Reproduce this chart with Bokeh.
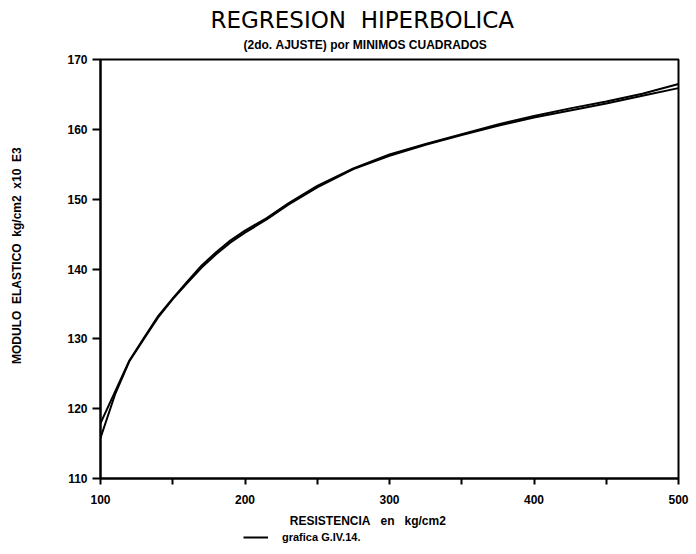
from bokeh.plotting import figure
from bokeh.layouts import column
from bokeh.models import Range1d, FixedTicker, Title, Legend, LegendItem
from bokeh.embed import file_html
from bokeh.resources import INLINE

# Data
resistencia = [100, 110, 120, 130, 140, 150, 160, 170, 180, 190, 200, 215, 230, 250,
               275, 300, 325, 350, 375, 400, 425, 450, 475, 500]
modulo_ajuste = [117.9, 122.4, 126.9, 130.1, 133.3, 135.8, 138.2, 140.5, 142.4, 144.1,
                 145.5, 147.3, 149.4, 151.9, 154.4, 156.4, 157.9, 159.3, 160.7, 161.9,
                 163.0, 164.0, 165.1, 166.5]
modulo_grafica = [115.8, 122.0, 126.8, 130.0, 133.1, 135.7, 138.0, 140.2, 142.1, 143.8,
                  145.2, 147.1, 149.2, 151.7, 154.3, 156.2, 157.8, 159.2, 160.5, 161.7,
                  162.7, 163.7, 164.8, 165.9]
x_ticks = [100, 200, 300, 400, 500]
x_minor_ticks = [150, 250, 350, 450]
y_ticks = [110, 120, 130, 140, 150, 160, 170]

NB = "\u00a0"
title_text = "REGRESION" + NB * 2 + "HIPERBOLICA"
subtitle_text = "(2do." + NB + "AJUSTE)" + NB + "por" + NB + "MINIMOS" + NB + "CUADRADOS"
x_label = "RESISTENCIA" + NB * 3 + "en" + NB * 3 + "kg/cm2" + NB * 13
y_label = NB * 8 + "MODULO" + NB * 2 + "ELASTICO" + NB * 2 + "kg/cm2" + NB * 2 + "x10" + NB * 2 + "E3"
legend_label = "grafica G.IV.14."

p = figure(width=696, height=530, output_backend="svg", toolbar_location=None,
           x_range=Range1d(100, 500), y_range=Range1d(110, 170),
           min_border_left=100, min_border_right=18, min_border_top=59, min_border_bottom=49)

p.add_layout(Title(text=subtitle_text, align="left", offset=143, text_font="Liberation Sans",
                   text_font_size="12px", text_font_style="bold", text_color="black",
                   standoff=16), "above")
p.add_layout(Title(text=title_text, align="left", offset=110, text_font="DejaVu Sans",
                   text_font_size="23px", text_font_style="normal", text_color="black",
                   standoff=-10), "above")

r1 = p.line(resistencia, modulo_ajuste, line_color="black", line_width=2)
r2 = p.line(resistencia, modulo_grafica, line_color="black", line_width=2)

p.xgrid.visible = False
p.ygrid.visible = False
p.background_fill_color = "white"
p.border_fill_color = "white"
p.outline_line_color = "black"
p.outline_line_width = 2

xa = p.xaxis[0]
xa.ticker = FixedTicker(ticks=x_ticks, minor_ticks=x_minor_ticks)
xa.major_tick_out = 6
xa.major_tick_in = 0
xa.minor_tick_out = 6
xa.minor_tick_in = 0
xa.axis_line_width = 2
xa.major_tick_line_width = 2
xa.minor_tick_line_width = 2
xa.major_label_text_font = "Liberation Sans"
xa.major_label_text_font_style = "bold"
xa.major_label_text_font_size = "12px"
xa.major_label_text_color = "black"
xa.major_label_standoff = 10
xa.axis_label = x_label
xa.axis_label_text_font = "Liberation Sans"
xa.axis_label_text_font_style = "bold"
xa.axis_label_text_font_size = "12px"
xa.axis_label_text_color = "black"
xa.axis_label_standoff = 7

ya = p.yaxis[0]
ya.ticker = FixedTicker(ticks=y_ticks, minor_ticks=[])
ya.major_tick_out = 8
ya.major_tick_in = 0
ya.axis_line_width = 2
ya.major_tick_line_width = 2
ya.major_label_text_font = "Liberation Sans"
ya.major_label_text_font_style = "bold"
ya.major_label_text_font_size = "12px"
ya.major_label_text_color = "black"
ya.major_label_standoff = 5
ya.axis_label = y_label
ya.axis_label_text_font = "Liberation Sans"
ya.axis_label_text_font_style = "bold"
ya.axis_label_text_font_size = "12px"
ya.axis_label_text_color = "black"
ya.axis_label_standoff = 40

# Legend strip under the chart (its frame is aligned with the chart's frame)
lf = figure(width=696, height=24, output_backend="svg", toolbar_location=None,
            x_range=Range1d(0, 1), y_range=Range1d(0, 1),
            x_axis_location=None, y_axis_location=None,
            min_border_left=100, min_border_right=18, min_border_top=0, min_border_bottom=0)
lf.xgrid.visible = False
lf.ygrid.visible = False
lf.outline_line_color = None
lf.background_fill_color = "white"
lf.border_fill_color = "white"
# same series, outside this strip's visible range: only its legend sample shows
r_leg = lf.line(x=resistencia, y=modulo_grafica, line_color="black", line_width=2)

legend = Legend(items=[LegendItem(label=legend_label, renderers=[r_leg])],
                location=(143, 11), padding=0, margin=0, spacing=0,
                border_line_color=None, background_fill_alpha=0,
                glyph_width=25, glyph_height=12, label_height=12, label_standoff=14,
                label_text_font="Liberation Sans", label_text_font_style="bold",
                label_text_font_size="11px", label_text_color="black")
lf.add_layout(legend, "center")

layout = column(p, lf, spacing=0)
open("out.html", "w").write(file_html(layout, INLINE))
